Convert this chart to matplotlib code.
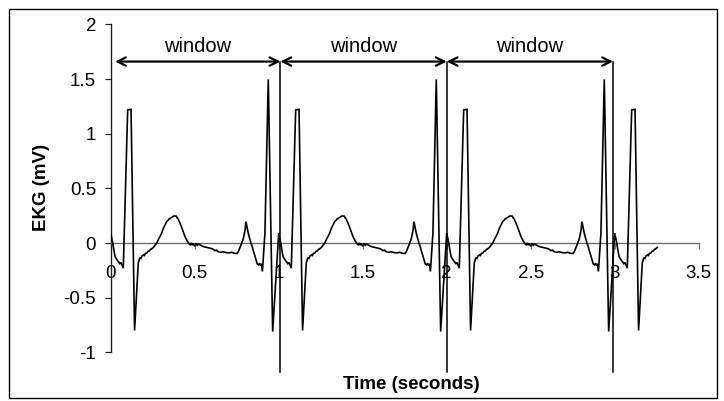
import numpy as np
import matplotlib
matplotlib.use("Agg")
import matplotlib.pyplot as plt
from matplotlib.patches import Rectangle

plt.rcParams['font.family'] = ['Liberation Sans', 'DejaVu Sans']

# One recorded heartbeat (time in s within the beat, amplitude in mV)
beat_t = [0.000, 0.012, 0.026, 0.036, 0.045, 0.055, 0.062, 0.069, 0.075,
          0.101, 0.121, 0.142, 0.164, 0.170, 0.175, 0.180, 0.186, 0.194,
          0.200, 0.207, 0.214, 0.220, 0.227, 0.234, 0.240, 0.247, 0.254,
          0.262, 0.274, 0.283, 0.293, 0.303, 0.313, 0.323, 0.333, 0.348,
          0.363, 0.376, 0.389, 0.401, 0.413, 0.428, 0.442, 0.455, 0.468,
          0.476, 0.480, 0.486, 0.492, 0.500, 0.508, 0.515, 0.523, 0.531,
          0.545, 0.558, 0.571, 0.585, 0.598, 0.611, 0.620, 0.630, 0.640,
          0.655, 0.670, 0.690, 0.705, 0.720, 0.738, 0.754, 0.762, 0.770,
          0.780, 0.790, 0.800, 0.805, 0.812, 0.819, 0.829, 0.839, 0.849,
          0.859, 0.866, 0.872, 0.879, 0.884, 0.889, 0.896, 0.903, 0.918,
          0.938, 0.964, 0.988]
beat_mv = [0.09, 0.00, -0.125, -0.15, -0.17, -0.19, -0.18, -0.21, -0.23,
           1.217, 1.223, -0.80, -0.186, -0.15, -0.136, -0.14, -0.12, -0.11,
           -0.115, -0.095, -0.094, -0.08, -0.075, -0.064, -0.055, -0.05, -0.04,
           -0.025, 0.0, 0.03, 0.058, 0.09, 0.134, 0.165, 0.195, 0.22,
           0.235, 0.247, 0.247, 0.22, 0.18, 0.12, 0.058, 0.02, -0.01,
           -0.02, 0.0, -0.015, -0.01, -0.03, -0.005, -0.02, -0.01, -0.015,
           -0.03, -0.035, -0.04, -0.045, -0.05, -0.058, -0.07, -0.065, -0.08,
           -0.085, -0.08, -0.089, -0.09, -0.085, -0.095, -0.095, -0.07, -0.04,
           0.0, 0.043, 0.12, 0.195, 0.14, 0.089, 0.03, -0.018, -0.07,
           -0.125, -0.16, -0.19, -0.2, -0.19, -0.2, -0.19, -0.26, 0.089,
           1.497, -0.81, -0.217]

beat_period = 1.0     # s
record_end = 3.26     # s, end of the recording

# Analysis windows (start/end of each one-second window)
window_edges = [0.026, 1.01, 2.0, 2.99]
window_label = "window"
arrow_level = 1.66
label_level = 1.745
marker_bottom = -1.18

x_ticks = [0, 0.5, 1, 1.5, 2, 2.5, 3, 3.5]
x_tick_labels = ["0", "0.5", "1", "1.5", "2", "2.5", "3", "3.5"]
y_ticks = [-1, -0.5, 0, 0.5, 1, 1.5, 2]
y_tick_labels = ["-1", "-0.5", "0", "0.5", "1", "1.5", "2"]

# Build the recorded trace from consecutive beats
bt = np.array(beat_t)
bv = np.array(beat_mv)
t_parts, v_parts = [], []
k = 0
while k * beat_period < record_end:
    tt = bt + k * beat_period
    keep = tt <= record_end
    t_parts.append(tt[keep])
    v_parts.append(bv[keep])
    k += 1
time = np.concatenate(t_parts)
ekg = np.concatenate(v_parts)

W, H = 724, 401
fig = plt.figure(figsize=(W / 100, H / 100), dpi=100)
ax = fig.add_axes([110.7 / W, 1 - 352.3 / H, 588 / W, 327.9 / H])
ax.set_xlim(0, 3.5)
ax.set_ylim(-1, 2)

ax.plot(time, ekg, color='black', lw=1.2, solid_joinstyle='miter', zorder=3)

# Axes styled with the x axis crossing at zero
for s in ('top', 'right'):
    ax.spines[s].set_visible(False)
ax.spines['bottom'].set_position(('data', 0))
ax.spines['bottom'].set_color('#707070')
ax.spines['bottom'].set_linewidth(1.0)
ax.spines['left'].set_color('#202020')
ax.spines['left'].set_linewidth(1.0)

ax.set_xticks(x_ticks)
ax.set_xticklabels(x_tick_labels)
ax.set_yticks(y_ticks)
ax.set_yticklabels(y_tick_labels)
ax.tick_params(axis='x', direction='out', length=4.3, width=0.9, color='#707070',
               pad=11.5, labelsize=13.5)
ax.tick_params(axis='y', direction='out', length=4, width=0.9, color='#202020',
               pad=6.5, labelsize=13.5)

# Window boundaries and double-headed arrows
for x in window_edges[1:]:
    ax.plot([x, x], [marker_bottom, arrow_level], color='black', lw=1.1,
            clip_on=False, zorder=4)
for a, b in zip(window_edges[:-1], window_edges[1:]):
    ax.annotate("", xy=(b, arrow_level), xytext=(a, arrow_level),
                arrowprops=dict(arrowstyle='<->,head_length=0.6,head_width=0.3',
                                color='black', lw=1.6, shrinkA=0, shrinkB=0,
                                mutation_scale=10))
    ax.text((a + b) / 2, label_level, window_label, ha='center', va='baseline',
            fontsize=14.5)

fig.text(411 / W, 1 - 389.3 / H, "Time (seconds)", ha='center', va='baseline',
         fontsize=13.5, fontweight='bold')
fig.text(41.7 / W, 1 - 187 / H, "EKG (mV)", ha='center', va='center',
         rotation=90, fontsize=13.5, fontweight='bold')

# Chart border
fig.patches.append(Rectangle((9 / W, 1 - 397.5 / H), (717 - 9) / W, (397.5 - 8.5) / H,
                             transform=fig.transFigure, fill=False,
                             edgecolor='black', lw=1.0))

fig.savefig("out.png", dpi=100)
